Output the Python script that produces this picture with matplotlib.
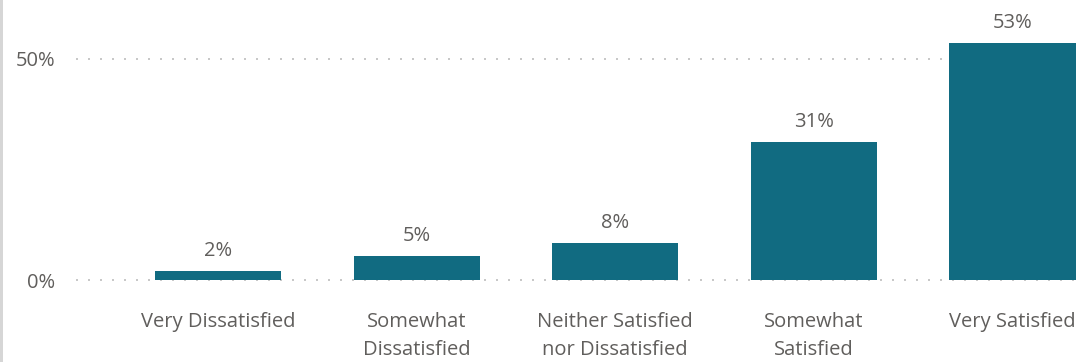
import matplotlib.pyplot as plt
from matplotlib.patches import Rectangle

categories = ["Very Dissatisfied", "Somewhat\nDissatisfied", "Neither Satisfied\nnor Dissatisfied",
              "Somewhat\nSatisfied", "Very Satisfied"]
# bar heights (labels are rounded)
values = [2.1, 5.4, 8.4, 31.3, 53.6]
value_labels = ["2%", "5%", "8%", "31%", "53%"]
y_ticks = [0, 50]
y_tick_labels = ["0%", "50%"]

plt.rcParams['font.family'] = ['Open Sans', 'DejaVu Sans']
text_color = '#605E5C'
bar_color = '#116B81'
fs = 14.5

fig = plt.figure(figsize=(10.82, 3.62), dpi=100)
ax = fig.add_axes([76 / 1082, 82 / 362, 1004 / 1082, 280 / 362])

x = range(len(categories))
ax.bar(x, values, width=0.635, color=bar_color, zorder=3)

for xi, v, lab in zip(x, values, value_labels):
    ax.annotate(lab, (xi, v), xytext=(0, 7), textcoords='offset points',
                ha='center', va='bottom', fontsize=fs, color=text_color)

ax.set_xlim(-0.715, 4.34)
ax.set_ylim(0, 63.3)
ax.set_yticks(y_ticks)
ax.set_yticklabels(y_tick_labels, fontsize=fs, color=text_color)
ax.set_xticks(list(x))
ax.set_xticklabels(categories, fontsize=fs, color=text_color, linespacing=1.55)
ax.tick_params(axis='both', length=0)
ax.tick_params(axis='y', pad=15)
ax.tick_params(axis='x', pad=23)

for yv in y_ticks:
    ax.axhline(yv, color='#C8C8C8', linewidth=1.44, linestyle=(0, (1, 5)), zorder=1,
               clip_on=False)

for s in ax.spines.values():
    s.set_visible(False)

# left border of the visual
fig.add_artist(Rectangle((0, 0), 3 / 1082, 1, transform=fig.transFigure,
                         color='#D6D6D6', lw=0))

fig.savefig("out.png", dpi=100)
